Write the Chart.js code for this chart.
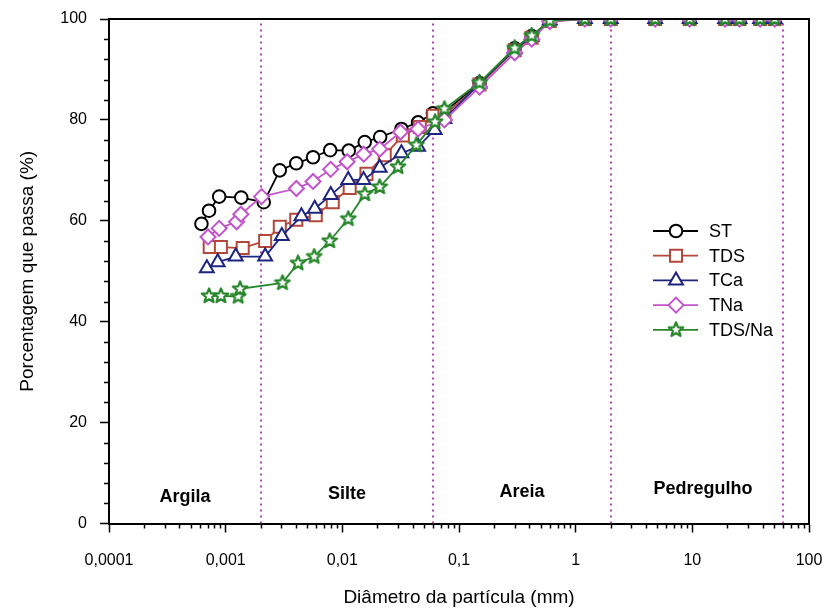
<!DOCTYPE html>
<html>
<head>
<meta charset="utf-8">
<script src="https://cdn.jsdelivr.net/npm/chart.js@4"></script>
<style>
  body { margin: 0; background: #fff; }
  canvas { display: block; }
</style>
</head>
<body>
<canvas id="curva" width="829" height="612"></canvas>
<script>
// sieve openings (mm) shared by every sample
const sieveMm = [0.075, 0.15, 0.3, 0.42, 0.6, 1.2, 2.0, 4.8, 9.5, 19.1, 25.4, 38.1, 50.8]

// sedimentation (hydrometer) diameters and % passing, sieve % passing
const stD = [0.00062, 0.00072, 0.00088, 0.00136, 0.00212, 0.00291, 0.00403, 0.00561, 0.00787, 0.01135, 0.01556, 0.0211, 0.0321, 0.0446, 0.0598]
const stP = [59.4, 62.0, 64.8, 64.6, 63.7, 70.0, 71.4, 72.6, 74.0, 73.9, 75.6, 76.6, 78.2, 79.5, 81.3]
const stSieve = [81.6, 87.3, 94.2, 96.6, 99.7, 100, 100, 100, 100, 100, 100, 100, 100]

const tdsD = [0.00073, 0.00091, 0.0014, 0.00218, 0.00291, 0.00403, 0.00592, 0.00828, 0.01156, 0.0161, 0.0231, 0.033, 0.0461, 0.0601]
const tdsP = [54.8, 54.8, 54.6, 56.0, 58.8, 60.2, 61.1, 63.7, 66.5, 69.3, 73.0, 76.9, 78.6, 80.8]
const tdsSieve = [81.0, 87.0, 93.8, 96.3, 99.6, 100, 100, 100, 100, 100, 100, 100, 100]

const tcaD = [0.00069, 0.000855, 0.00122, 0.00218, 0.00303, 0.00446, 0.0058, 0.00796, 0.01124, 0.0152, 0.0209, 0.0321, 0.0446, 0.0619]
const tcaP = [50.6, 51.8, 52.9, 52.9, 57.0, 60.9, 62.4, 65.1, 68.1, 68.1, 70.5, 73.4, 74.7, 78.0]
const tcaSieve = [80.2, 87.2, 94.0, 96.5, 99.7, 100, 100, 100, 100, 100, 100, 100, 100]

const tnaD = [0.000706, 0.00088, 0.00124, 0.00135, 0.00203, 0.00404, 0.00561, 0.00794, 0.011, 0.01526, 0.0209, 0.0315, 0.0446]
const tnaP = [56.8, 58.5, 59.8, 61.3, 64.8, 66.4, 67.8, 70.2, 71.7, 73.2, 74.2, 77.6, 78.2]
const tnaSieve = [80.0, 86.5, 93.3, 96.0, 99.5, 100, 100, 100, 100, 100, 100, 100, 100]

const tdsnaD = [0.00072, 0.00091, 0.00128, 0.00133, 0.00307, 0.00417, 0.00574, 0.0078, 0.01124, 0.01556, 0.0209, 0.030, 0.0431, 0.0624]
const tdsnaP = [45.1, 45.1, 45.0, 46.5, 47.7, 51.6, 52.9, 56.0, 60.4, 65.3, 66.7, 70.7, 75.0, 79.6]
const tdsnaSieve = [82.2, 87.4, 94.2, 96.7, 99.7, 100, 100, 100, 100, 100, 100, 100, 100]

// axes
const xMajor = [0.0001, 0.001, 0.01, 0.1, 1, 10, 100]
const yMajor = [0, 20, 40, 60, 80, 100]

// particle size classes
const zoneEdges = [0.002, 0.06, 2, 60]
const zoneNames = ['Argila', 'Silte', 'Areia', 'Pedregulho']

const FONT = '"Liberation Sans", Arial, sans-serif'

function makeStar(color) {
  const c = document.createElement('canvas')
  c.width = 18
  c.height = 18
  const g = c.getContext('2d')
  g.beginPath()
  for (let i = 0; i < 10; i++) {
    const r = i % 2 ? 3.3 : 7.6
    const a = -Math.PI / 2 + i * Math.PI / 5
    g.lineTo(9 + r * Math.cos(a), 9 + r * Math.sin(a))
  }
  g.closePath()
  g.fillStyle = '#fff'
  g.fill()
  g.lineJoin = 'round'
  g.lineWidth = 2.2
  g.strokeStyle = color
  g.stroke()
  return c
}

function points(d, p, sieve) {
  return d.concat(sieveMm).map((x, i) => ({x: x, y: i < p.length ? p[i] : sieve[i - p.length]}))
}

function series(label, d, p, sieve, color, style, radius, order) {
  return {
    label: label,
    data: points(d, p, sieve),
    borderColor: color,
    backgroundColor: '#fff',
    borderWidth: 1.8,
    pointStyle: style,
    pointRadius: radius,
    pointBorderWidth: 2,
    pointBorderColor: color,
    pointBackgroundColor: '#fff',
    order: order
  }
}

const datasets = [
  series('ST', stD, stP, stSieve, '#000000', 'circle', 6.3, 5),
  series('TDS', tdsD, tdsP, tdsSieve, '#b2473a', 'rect', 8.5, 4),
  series('TCa', tcaD, tcaP, tcaSieve, '#1d2580', 'triangle', 8, 3),
  series('TNa', tnaD, tnaP, tnaSieve, '#c353cc', 'rectRot', 7.5, 2),
  series('TDS/Na', tdsnaD, tdsnaP, tdsnaSieve, '#26862a', makeStar('#26862a'), 8, 1)
]

// frame, minor ticks, class boundaries and legend
const extras = {
  id: 'extras',
  beforeDatasetsDraw(chart) {
    const {ctx, chartArea: a, scales: {x}} = chart
    ctx.save()
    ctx.strokeStyle = '#b544b5'
    ctx.lineWidth = 2
    ctx.setLineDash([2, 4])
    zoneEdges.forEach(v => {
      const px = Math.round(x.getPixelForValue(v))
      ctx.beginPath()
      ctx.moveTo(px, a.bottom)
      ctx.lineTo(px, a.top)
      ctx.stroke()
    })
    ctx.setLineDash([])
    ctx.fillStyle = '#000'
    ctx.font = 'bold 18px ' + FONT
    ctx.textAlign = 'center'
    ctx.textBaseline = 'middle'
    const bounds = [x.min].concat(zoneEdges)
    const ys = [497, 494, 492, 489]
    const dx = [0, 0, 0, 6]
    zoneNames.forEach((n, i) => {
      const cx = (x.getPixelForValue(bounds[i]) + x.getPixelForValue(bounds[i + 1])) / 2
      ctx.fillText(n, cx + dx[i], ys[i])
    })
    ctx.restore()
  },
  afterDraw(chart) {
    const {ctx, chartArea: a, scales: {x, y}} = chart
    ctx.save()
    ctx.strokeStyle = '#000'
    ctx.lineWidth = 1.5
    // minor ticks on the log axis
    for (let e = -4; e < 2; e++) {
      for (let m = 2; m < 10; m++) {
        const px = Math.round(x.getPixelForValue(m * Math.pow(10, e))) + 0.5
        ctx.beginPath()
        ctx.moveTo(px, a.bottom)
        ctx.lineTo(px, a.bottom + 5)
        ctx.stroke()
      }
    }
    // minor ticks on the percent axis
    for (let v = 4; v < 100; v += 4) {
      if (v % 20 === 0) continue
      const py = Math.round(y.getPixelForValue(v)) + 0.5
      ctx.beginPath()
      ctx.moveTo(a.left, py)
      ctx.lineTo(a.left - 5, py)
      ctx.stroke()
    }
    // top and right border
    ctx.lineWidth = 2
    ctx.beginPath()
    ctx.moveTo(a.left, a.top)
    ctx.lineTo(a.right, a.top)
    ctx.lineTo(a.right, a.bottom)
    ctx.stroke()

    // legend
    const lx = 653, ly = 231, step = 24.7
    ctx.font = '18px ' + FONT
    ctx.textAlign = 'left'
    ctx.textBaseline = 'middle'
    datasets.forEach((ds, i) => {
      const yy = ly + i * step
      ctx.strokeStyle = ds.borderColor
      ctx.lineWidth = ds.borderWidth
      ctx.beginPath()
      ctx.moveTo(lx, yy)
      ctx.lineTo(lx + 45, yy)
      ctx.stroke()
      ctx.fillStyle = '#fff'
      ctx.lineWidth = ds.pointBorderWidth
      Chart.helpers.drawPoint(ctx, {
        pointStyle: ds.pointStyle,
        radius: ds.pointRadius,
        borderWidth: ds.pointBorderWidth,
        rotation: 0
      }, lx + 23, yy)
      ctx.fillStyle = '#000'
      ctx.fillText(ds.label, lx + 56, yy + 1)
    })
    ctx.restore()
  }
}

new Chart(document.getElementById('curva'), {
  type: 'line',
  data: {datasets: datasets},
  plugins: [extras],
  options: {
    responsive: false,
    animation: false,
    layout: {padding: {top: 19, right: 20, left: 0, bottom: 0}},
    plugins: {legend: {display: false}, tooltip: {enabled: false}},
    scales: {
      x: {
        type: 'logarithmic',
        min: 0.0001,
        max: 100,
        afterFit(s) {
          s.height = 88.5
          s.paddingLeft = 0
          s.paddingRight = 0
        },
        afterBuildTicks(s) { s.ticks = xMajor.map(v => ({value: v})) },
        ticks: {
          autoSkip: false,
          maxRotation: 0,
          padding: 18,
          color: '#000',
          font: {family: FONT, size: 16},
          callback: v => String(v).replace('.', ',')
        },
        grid: {drawOnChartArea: false, tickLength: 9, tickColor: '#000', tickWidth: 1.5},
        border: {color: '#000', width: 2},
        title: {
          display: true,
          text: 'Diâmetro da partícula (mm)',
          color: '#000',
          font: {family: FONT, size: 19},
          padding: {top: 4, bottom: 3}
        }
      },
      y: {
        min: 0,
        max: 100,
        afterFit(s) {
          s.width = 109
          s.paddingTop = 0
          s.paddingBottom = 0
        },
        afterBuildTicks(s) { s.ticks = yMajor.map(v => ({value: v})) },
        ticks: {padding: 13, color: '#000', font: {family: FONT, size: 16}},
        grid: {drawOnChartArea: false, tickLength: 9, tickColor: '#000', tickWidth: 1.5},
        border: {color: '#000', width: 2},
        title: {
          display: true,
          text: 'Porcentagem que passa (%)',
          color: '#000',
          font: {family: FONT, size: 19},
          padding: {top: 16, bottom: 4}
        }
      }
    }
  }
})
</script>
</body>
</html>
